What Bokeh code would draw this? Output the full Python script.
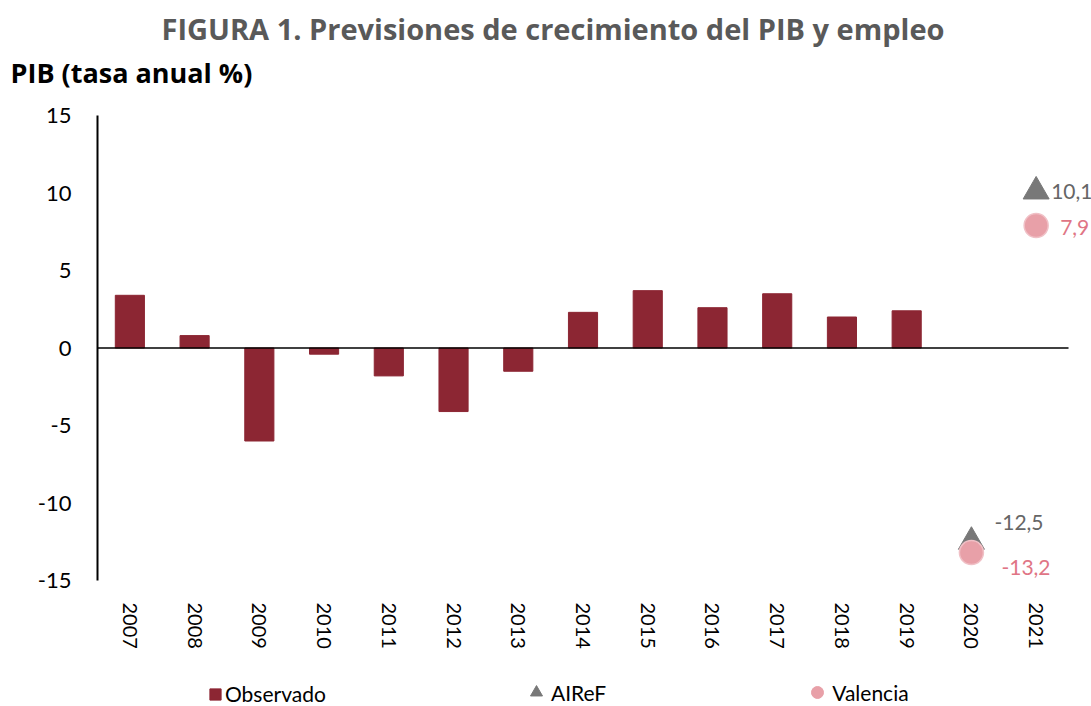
from bokeh.plotting import figure
from bokeh.layouts import column
from bokeh.models import (Range1d, FixedTicker, Legend, LegendItem, ColumnDataSource)
from bokeh.core.properties import value
from bokeh.embed import file_html
from bokeh.resources import INLINE

# ---- data ----
years = ["2007", "2008", "2009", "2010", "2011", "2012", "2013", "2014",
         "2015", "2016", "2017", "2018", "2019", "2020", "2021"]
obs_years = years[:13]
observado = [3.4, 0.8, -6.0, -0.4, -1.8, -4.1, -1.5, 2.3, 3.7, 2.6, 3.5, 2.0, 2.4]
fc_years = ["2020", "2021"]
airef = [-12.5, 10.1]
valencia = [-13.2, 7.9]
y_ticks = [-15, -10, -5, 0, 5, 10, 15]
title_text = "FIGURA 1. Previsiones de crecimiento del PIB y empleo"
subtitle_text = "PIB (tasa anual %)"
series_names = ["Observado", "AIReF", "Valencia"]

# ---- styles ----
FONT = "Lato"
TFONT = "Open Sans"
BAR = "#8C2633"
GREY = "#787878"
PINK = "#E8A0A8"
PINK_TXT = "#E07585"
GREY_TXT = "#666666"
W = 1091
HEAD_H = 95
MAIN_H = 575
LEG_H = 706 - HEAD_H - MAIN_H

airef_dx = [23, 15]
airef_dy = [-19, 0]
val_dx = [30, 24]
val_dy = [15, 2]

def fmt(v):
    return f"{v:.1f}".replace(".", ",")

def bare(fig):
    fig.outline_line_color = None
    fig.xgrid.grid_line_color = None
    fig.ygrid.grid_line_color = None
    fig.background_fill_color = "white"
    fig.border_fill_color = "white"
    fig.frame_align = False

# ---------- header (titles) ----------
head = figure(width=W, height=HEAD_H, x_range=Range1d(0, W), y_range=Range1d(HEAD_H, 0),
              output_backend="svg", toolbar_location=None,
              x_axis_location=None, y_axis_location=None,
              min_border=0)
bare(head)
head.text(x=[W / 2 + 7], y=[28], text=[title_text], text_font=value(TFONT),
          text_font_size="29px", text_font_style="bold", text_color="#595959",
          text_align="center", text_baseline="middle")
head.text(x=[10], y=[72], text=[subtitle_text], text_font=value(TFONT),
          text_font_size="27px", text_font_style="bold", text_color="black",
          text_align="left", text_baseline="middle")

# ---------- main chart ----------
xpos = {y: i for i, y in enumerate(years)}
n = len(years)

p = figure(width=W, height=MAIN_H,
           x_range=Range1d(-0.5, n - 0.5 + 0.355),
           y_range=Range1d(-15, 15),
           output_backend="svg", toolbar_location=None, title=None,
           min_border_left=97, min_border_right=0,
           min_border_top=115 - HEAD_H, min_border_bottom=MAIN_H - (580 - HEAD_H))
bare(p)

src_obs = ColumnDataSource(dict(x=[xpos[y] for y in obs_years], y=observado))
p.vbar(x="x", top="y", width=0.45, source=src_obs, fill_color=BAR, line_color=BAR)

# zero line across the category area
p.segment(x0=[-0.5], y0=[0], x1=[n - 0.5], y1=[0], line_color="black", line_width=1.5)

src_a = ColumnDataSource(dict(x=[xpos[y] for y in fc_years], y=airef,
                              t=[fmt(v) for v in airef], dx=airef_dx, dy=airef_dy))
src_v = ColumnDataSource(dict(x=[xpos[y] for y in fc_years], y=valencia,
                              t=[fmt(v) for v in valencia], dx=val_dx, dy=val_dy))
p.scatter(x="x", y="y", source=src_a, marker="triangle", size=26,
          fill_color=GREY, line_color=GREY)
p.scatter(x="x", y="y", source=src_v, marker="circle", size=24,
          fill_color=PINK, line_color="#F0C0C6", line_width=1.5)
p.text(x="x", y="y", text="t", source=src_a, x_offset="dx", y_offset="dy",
       text_font=value(FONT), text_font_size="21px", text_color=GREY_TXT,
       text_baseline="middle", text_align="left")
p.text(x="x", y="y", text="t", source=src_v, x_offset="dx", y_offset="dy",
       text_font=value(FONT), text_font_size="21px", text_color=PINK_TXT,
       text_baseline="middle", text_align="left")

yax = p.yaxis[0]
yax.ticker = FixedTicker(ticks=y_ticks)
yax.major_label_overrides = {t: str(t) for t in y_ticks}
yax.axis_line_color = "black"
yax.axis_line_width = 2
yax.major_tick_line_color = None
yax.minor_tick_line_color = None
yax.major_label_standoff = 20
yax.major_label_text_font = FONT
yax.major_label_text_font_size = "22px"
yax.major_label_text_color = "black"

xax = p.xaxis[0]
xax.ticker = FixedTicker(ticks=list(range(n)))
xax.major_label_overrides = {i: y for i, y in enumerate(years)}
xax.axis_line_color = None
xax.major_tick_line_color = None
xax.minor_tick_line_color = None
xax.major_label_orientation = "vertical"
xax.major_label_standoff = 16
xax.major_label_text_font = FONT
xax.major_label_text_font_size = "20px"
xax.major_label_text_color = "black"

# ---------- legend strip (series drawn off-range, only legends shown) ----------
leg = figure(width=W, height=LEG_H, x_range=Range1d(1000, 1001), y_range=Range1d(1000, 1001),
             output_backend="svg", toolbar_location=None,
             x_axis_location=None, y_axis_location=None, min_border=0)
bare(leg)
r_bar = leg.vbar(x=[xpos[y] for y in obs_years], top=observado, width=0.45,
                 fill_color=BAR, line_color=BAR)
r_tri = leg.scatter(x=[xpos[y] for y in fc_years], y=airef, marker="triangle",
                    size=14, fill_color=GREY, line_color=GREY)
r_cir = leg.scatter(x=[xpos[y] for y in fc_years], y=valencia, marker="circle",
                    size=13, fill_color=PINK, line_color=PINK)
common = dict(orientation="horizontal", padding=0, margin=0,
              label_text_font=FONT, label_text_font_size="21px",
              label_text_color="black", border_line_color=None,
              background_fill_alpha=0)
legend1 = Legend(items=[LegendItem(label=series_names[0], renderers=[r_bar])],
                 location=(208, 0), glyph_width=14, glyph_height=14,
                 label_standoff=3, **common)
legend2 = Legend(items=[LegendItem(label=series_names[1], renderers=[r_tri]),
                        LegendItem(label=series_names[2], renderers=[r_cir])],
                 location=(521, -1), glyph_width=30, glyph_height=30,
                 label_standoff=-6, spacing=196, **common)
leg.add_layout(legend1, "center")
leg.add_layout(legend2, "center")

layout = column(head, p, leg, spacing=0)
open("out.html", "w").write(file_html(layout, INLINE))
